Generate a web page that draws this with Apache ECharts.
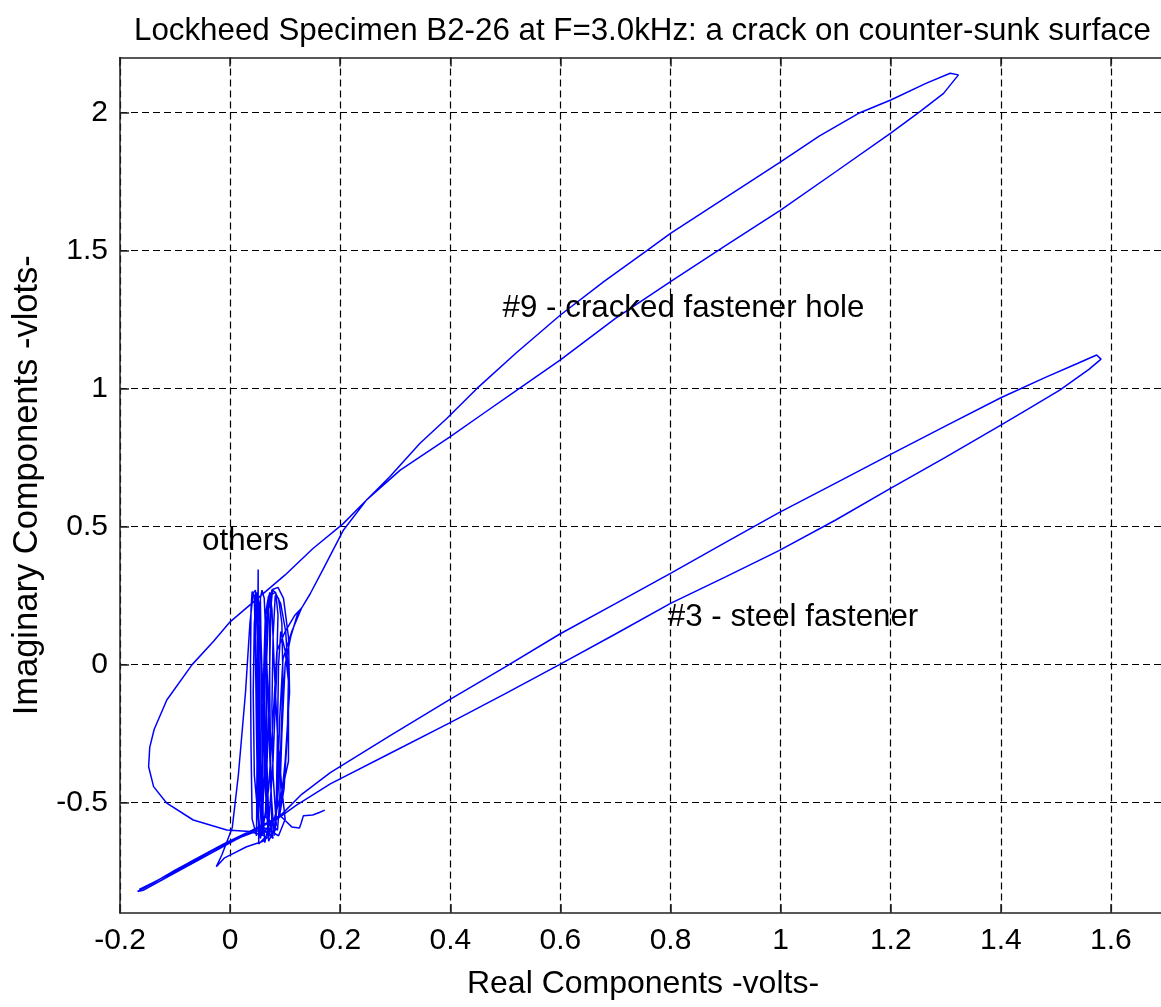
<!DOCTYPE html>
<html>
<head>
<meta charset="utf-8">
<title>Lockheed Specimen B2-26</title>
<script src="https://cdn.jsdelivr.net/npm/echarts@6/dist/echarts.min.js"></script>
<style>
html, body { margin: 0; padding: 0; background: #fff; overflow: hidden; }
#chart { width: 1200px; height: 1007px; }
</style>
</head>
<body>
<div id="chart"></div>
<script>
// tick values
var xTicks = [-0.2, 0, 0.2, 0.4, 0.6, 0.8, 1, 1.2, 1.4, 1.6]
var yTicks = [-0.5, 0, 0.5, 1, 1.5, 2]

// trace, in drawing order
var tailPts = [[0.172, -0.527], [0.162, -0.536], [0.150, -0.545], [0.133, -0.548], [0.129, -0.575], [0.126, -0.592],
    [0.112, -0.588], [0.100, -0.565], [0.090, -0.545]]

var othersA = [[0.098, -0.45], [0.104, -0.25], [0.106, -0.05], [0.101, 0.12], [0.092, 0.22], [0.082, 0.262], [0.072, 0.25],
    [0.065, 0.15], [0.062, -0.05], [0.064, -0.30], [0.067, -0.52], [0.072, -0.62],
    [0.061, -0.60], [0.053, -0.40], [0.048, -0.10], [0.046, 0.15], [0.048, 0.262],
    [0.053, 0.22], [0.056, 0.00], [0.058, -0.30], [0.060, -0.55], [0.063, -0.645],
    [0.070, -0.58], [0.078, -0.35], [0.084, -0.05], [0.087, 0.18], [0.083, 0.26], [0.076, 0.272],
    [0.070, 0.20], [0.066, 0.00], [0.066, -0.30], [0.070, -0.55], [0.078, -0.63]]

// #3 - steel fastener
var loop3 = [[0.060, -0.595], [0.020, -0.625], [-0.040, -0.680], [-0.100, -0.745], [-0.140, -0.792], [-0.168, -0.822],
    [-0.158, -0.818], [-0.110, -0.765], [-0.050, -0.700], [0.010, -0.635], [0.060, -0.585], [0.095, -0.540],
    [0.130, -0.470], [0.182, -0.391], [0.290, -0.258], [0.398, -0.128], [0.500, -0.008], [0.599, 0.111], [0.700, 0.221],
    [0.800, 0.331], [0.900, 0.443], [0.997, 0.551], [1.100, 0.658], [1.198, 0.760], [1.300, 0.865], [1.400, 0.967],
    [1.480, 1.040], [1.540, 1.092], [1.574, 1.122], [1.582, 1.107],
    [1.560, 1.070], [1.507, 0.995], [1.450, 0.927], [1.400, 0.868], [1.300, 0.752], [1.198, 0.637], [1.100, 0.524],
    [0.997, 0.413], [0.900, 0.318], [0.800, 0.222], [0.700, 0.111], [0.599, 0.001], [0.500, -0.105], [0.398, -0.212],
    [0.290, -0.322], [0.182, -0.432], [0.120, -0.510], [0.085, -0.560],
    [0.030, -0.612], [-0.030, -0.672], [-0.090, -0.738], [-0.140, -0.790], [-0.165, -0.815], [-0.130, -0.780],
    [-0.070, -0.712], [-0.010, -0.648], [0.040, -0.600], [0.080, -0.560]]

var othersB = [[0.090, -0.55], [0.100, -0.35], [0.108, -0.10], [0.106, 0.10], [0.097, 0.24], [0.087, 0.28], [0.077, 0.272],
    [0.072, 0.16], [0.072, -0.10], [0.074, -0.40], [0.076, -0.60],
    [0.052, -0.65], [0.051, -0.30], [0.051, 0.10], [0.051, 0.345], [0.050, 0.10], [0.049, -0.30], [0.048, -0.62],
    [0.040, -0.56], [0.038, -0.30], [0.037, 0.00], [0.038, 0.20], [0.040, 0.265], [0.044, 0.25],
    [0.046, 0.05], [0.048, -0.25], [0.050, -0.50], [0.055, -0.63]]

var othersD = [[0.058, -0.60], [0.062, -0.40], [0.060, -0.15], [0.056, 0.10], [0.055, 0.24], [0.058, 0.27], [0.062, 0.24],
    [0.066, 0.05], [0.070, -0.20], [0.074, -0.45], [0.080, -0.62],
    [0.086, -0.50], [0.092, -0.30], [0.096, -0.05], [0.094, 0.15], [0.088, 0.24], [0.082, 0.25],
    [0.078, 0.10], [0.076, -0.15], [0.078, -0.40], [0.084, -0.58],
    [0.070, -0.64], [0.064, -0.45], [0.062, -0.20], [0.064, 0.05], [0.068, 0.22], [0.072, 0.262],
    [0.076, 0.20], [0.080, 0.00], [0.086, -0.25], [0.094, -0.45], [0.100, -0.56],
    [0.088, -0.62], [0.070, -0.60], [0.052, -0.58], [0.044, -0.40], [0.042, -0.10], [0.044, 0.15], [0.048, 0.24],
    [0.052, 0.12], [0.054, -0.15], [0.056, -0.45], [0.062, -0.62]]

// #9 - cracked fastener hole (with the wide left swing)
var loop9 = [[0.036, -0.605], [-0.006, -0.599], [-0.067, -0.563], [-0.115, -0.502], [-0.139, -0.442], [-0.148, -0.370],
    [-0.146, -0.300], [-0.138, -0.235], [-0.115, -0.128], [-0.069, 0.000], [-0.030, 0.085], [0.000, 0.155], [0.050, 0.240],
    [0.100, 0.325], [0.150, 0.420], [0.205, 0.510], [0.242, 0.585], [0.290, 0.681], [0.345, 0.802], [0.394, 0.893],
    [0.448, 1.000], [0.520, 1.130], [0.600, 1.267], [0.680, 1.390], [0.757, 1.500], [0.800, 1.563], [0.900, 1.692],
    [1.000, 1.822], [1.070, 1.915], [1.144, 2.000], [1.200, 2.046], [1.265, 2.107], [1.308, 2.143], [1.323, 2.137],
    [1.296, 2.070], [1.253, 2.004], [1.200, 1.926], [1.100, 1.786], [1.000, 1.647], [0.900, 1.518], [0.800, 1.388],
    [0.700, 1.255], [0.600, 1.104], [0.521, 0.995], [0.460, 0.910], [0.400, 0.826], [0.309, 0.705], [0.248, 0.597],
    [0.206, 0.488], [0.170, 0.350], [0.145, 0.255], [0.132, 0.212]]

var othersC = [[0.122, 0.180], [0.110, 0.100], [0.100, 0.000], [0.094, -0.250], [0.090, -0.500], [0.086, -0.600],
    [0.064, -0.55], [0.068, -0.30], [0.072, 0.00], [0.074, 0.20], [0.070, 0.25],
    [0.064, 0.18], [0.060, -0.10], [0.058, -0.40], [0.056, -0.62],
    [0.080, -0.56], [0.094, -0.46], [0.106, -0.35], [0.106, -0.06], [0.100, 0.05], [0.092, 0.12],
    [0.088, 0.00], [0.086, -0.25], [0.084, -0.50], [0.082, -0.60], [0.060, -0.640],
    [0.030, -0.660], [-0.010, -0.700], [-0.025, -0.732], [-0.015, -0.690], [0.004, -0.590], [0.015, -0.400],
    [0.028, -0.100], [0.036, 0.150], [0.042, 0.260], [0.046, 0.270],
    [0.050, 0.10], [0.052, -0.20], [0.054, -0.50], [0.058, -0.62],
    [0.070, -0.45], [0.078, -0.20], [0.085, 0.05], [0.100, 0.12], [0.118, 0.18], [0.130, 0.205], [0.127, 0.192],
    [0.112, 0.120], [0.096, 0.020], [0.090, -0.200], [0.086, -0.450], [0.080, -0.610], [0.070, -0.590]]

// text notes inside the plot
var noteText = ['#9 - cracked fastener hole', '#3 - steel fastener', 'others']
var noteX = [0.495, 0.795, -0.051]
var noteY = [1.29, 0.173, 0.448]

var font = "'Liberation Sans', Arial, sans-serif"

var trace = [].concat(tailPts, othersA, loop3, othersB, othersD, loop9, othersC)
var notes = noteText.map(function (t, i) { return [noteX[i], noteY[i], t] })

var chart = echarts.init(document.getElementById('chart'))
var axisLine = { show: true, onZero: false, lineStyle: { color: '#222', width: 1.5 } }
var tickStyle = { color: '#222', width: 1.5 }
var gridLine = { show: true, lineStyle: { color: '#000', width: 1.2, type: [7, 4] } }
var option = {
    animation: false,
    backgroundColor: '#fff',
    title: {
        text: 'Lockheed Specimen B2-26 at F=3.0kHz: a crack on counter-sunk surface',
        left: 129,
        top: 11,
        textStyle: { fontFamily: font, fontSize: 31.3, fontWeight: 'normal', color: '#000' }
    },
    grid: { left: 120, top: 57.5, right: 34, bottom: 94, outerBoundsMode: 'none' },
    xAxis: [{
        type: 'value',
        min: -0.2,
        max: 1.7,
        interval: 0.2,
        name: 'Real Components -volts-',
        nameLocation: 'middle',
        nameGap: 55,
        nameTextStyle: { fontFamily: font, fontSize: 32, color: '#000' },
        axisLine: axisLine,
        axisTick: { show: true, inside: true, length: 9, lineStyle: tickStyle },
        axisLabel: { fontFamily: font, fontSize: 30, color: '#000', margin: 13, showMaxLabel: false },
        splitLine: gridLine
    }, {
        type: 'value',
        position: 'top',
        min: -0.2,
        max: 1.7,
        interval: 0.2,
        axisLine: axisLine,
        axisTick: { show: true, inside: true, length: 9, lineStyle: tickStyle },
        axisLabel: { show: false },
        splitLine: { show: false }
    }],
    yAxis: {
        type: 'value',
        min: -0.9,
        max: 2.2,
        name: 'Imaginary Components -vlots-',
        nameLocation: 'middle',
        nameGap: 74,
        nameTextStyle: { fontFamily: font, fontSize: 34.5, color: '#000' },
        axisLine: axisLine,
        axisTick: { show: true, inside: true, length: 9, customValues: yTicks, lineStyle: tickStyle },
        axisLabel: { fontFamily: font, fontSize: 30, color: '#000', margin: 12, customValues: yTicks },
        splitLine: gridLine
    },
    series: [{
        type: 'line',
        data: trace,
        showSymbol: false,
        symbol: 'none',
        smooth: false,
        lineStyle: { color: '#0000ff', width: 1.5 },
        z: 5
    }, {
        type: 'scatter',
        data: notes,
        symbolSize: 0,
        itemStyle: { opacity: 1 },
        label: {
            show: true,
            position: 'right',
            distance: 0,
            formatter: function (p) { return p.value[2] },
            fontFamily: font,
            fontSize: 31.3,
            color: '#000'
        },
        z: 6
    }]
}
chart.setOption(option)
</script>
</body>
</html>
